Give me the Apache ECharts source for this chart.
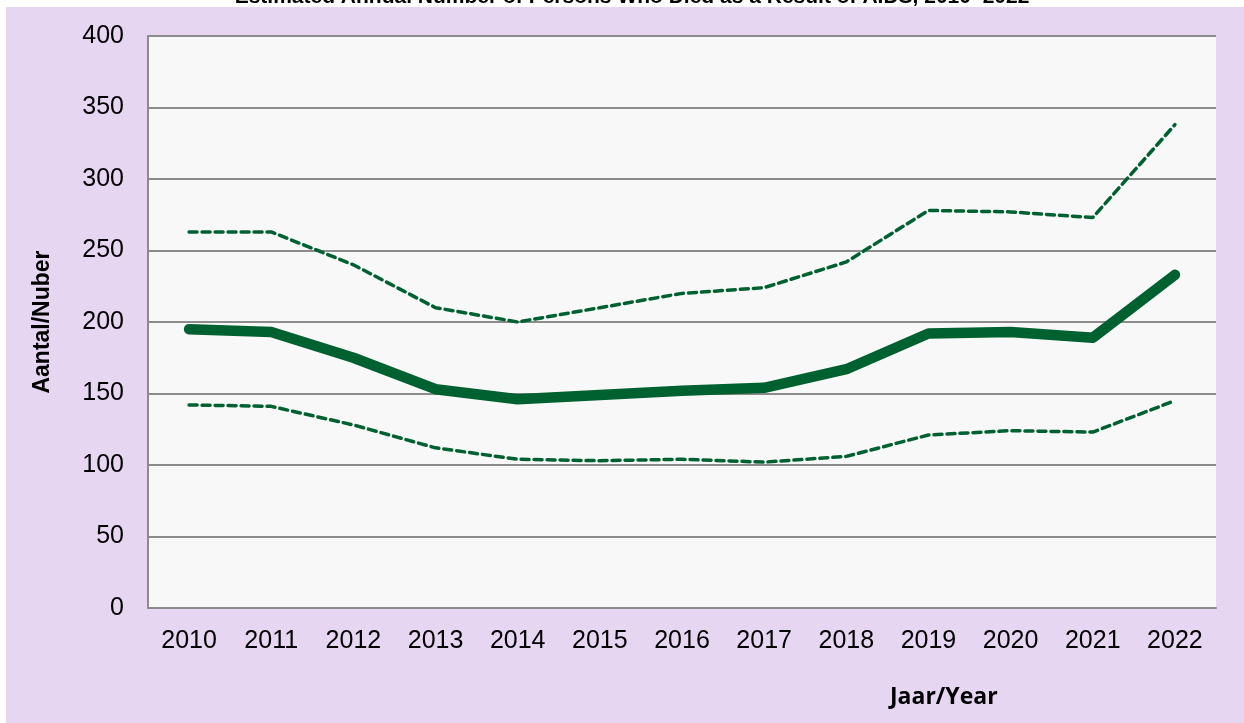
<!DOCTYPE html>
<html lang="en">
<head>
  <meta charset="UTF-8">
  <title>AIDS deaths 2010-2022</title>
  <style>
    html, body { margin: 0; padding: 0; background: #ffffff; }
    #main { width: 1244px; height: 723px; }
  </style>
</head>
<body>
  <div id="main"></div>
<script src="https://cdn.jsdelivr.net/npm/echarts@6/dist/echarts.min.js"></script>
<script>
  // data
  var years = ['2010', '2011', '2012', '2013', '2014', '2015', '2016', '2017', '2018', '2019', '2020', '2021', '2022'];
  var estimate = [195, 193, 175, 153, 146, 149, 152, 154, 167, 192, 193, 189, 233];
  var upperBound = [263, 263, 240, 210, 200, 210, 220, 224, 242, 278, 277, 273, 338];
  var lowerBound = [142, 141, 128, 112, 104, 103, 104, 102, 106, 121, 124, 123, 145];

  var green = '#006130';

  var myChart = echarts.init(document.getElementById('main'));

  var option = {
    backgroundColor: 'transparent',
    title: {
      text: 'Estimated Annual Number of Persons Who Died as a Result of AIDS, 2010\u20132022',
      left: 627,
      textAlign: 'center',
      top: -18,
      textStyle: {
        fontFamily: 'Liberation Sans',
        fontWeight: 'bold',
        fontSize: 21,
        color: '#000'
      }
    },
    graphic: [
      {
        type: 'rect',
        z: -10,
        silent: true,
        shape: { x: 6, y: 7, width: 1238, height: 716 },
        style: { fill: '#e6d6f2' }
      },
      {
        type: 'text',
        left: 890,
        top: 686,
        style: {
          text: 'Jaar/Year',
          font: 'bold 23px "Open Sans"',
          fill: '#000'
        }
      }
    ],
    grid: {
      left: 148,
      right: 28,
      top: 36,
      bottom: 115,
      show: true,
      backgroundColor: '#f8f8f8',
      borderWidth: 0
    },
    xAxis: {
      type: 'category',
      data: years,
      boundaryGap: true,
      axisLine: { lineStyle: { color: '#8c8c8c', width: 2 } },
      axisTick: { show: false },
      axisLabel: {
        color: '#000',
        fontSize: 25,
        fontFamily: 'Liberation Sans',
        margin: 21
      },
      splitLine: { show: false }
    },
    yAxis: {
      type: 'value',
      min: 0,
      max: 400,
      interval: 50,
      name: 'Aantal/Nuber',
      nameLocation: 'middle',
      nameGap: 94,
      nameTextStyle: {
        fontFamily: 'Liberation Sans',
        fontWeight: 'bold',
        fontSize: 23,
        color: '#000'
      },
      axisLine: { show: true, lineStyle: { color: '#8c8c8c', width: 2 } },
      axisTick: { show: false },
      axisLabel: {
        color: '#000',
        fontSize: 25,
        fontFamily: 'Liberation Sans',
        margin: 24
      },
      splitLine: { lineStyle: { color: '#8c8c8c', width: 2 } }
    },
    series: [
      {
        name: 'Upper',
        type: 'line',
        data: upperBound,
        symbol: 'none',
        lineStyle: { color: green, width: 3.5, type: [8, 5], cap: 'round' }
      },
      {
        name: 'Lower',
        type: 'line',
        data: lowerBound,
        symbol: 'none',
        lineStyle: { color: green, width: 3.5, type: [8, 5], cap: 'round' }
      },
      {
        name: 'Estimate',
        type: 'line',
        data: estimate,
        symbol: 'none',
        lineStyle: { color: green, width: 10.5, cap: 'round', join: 'round' }
      }
    ]
  };

  myChart.setOption(option);
</script>
</body>
</html>
